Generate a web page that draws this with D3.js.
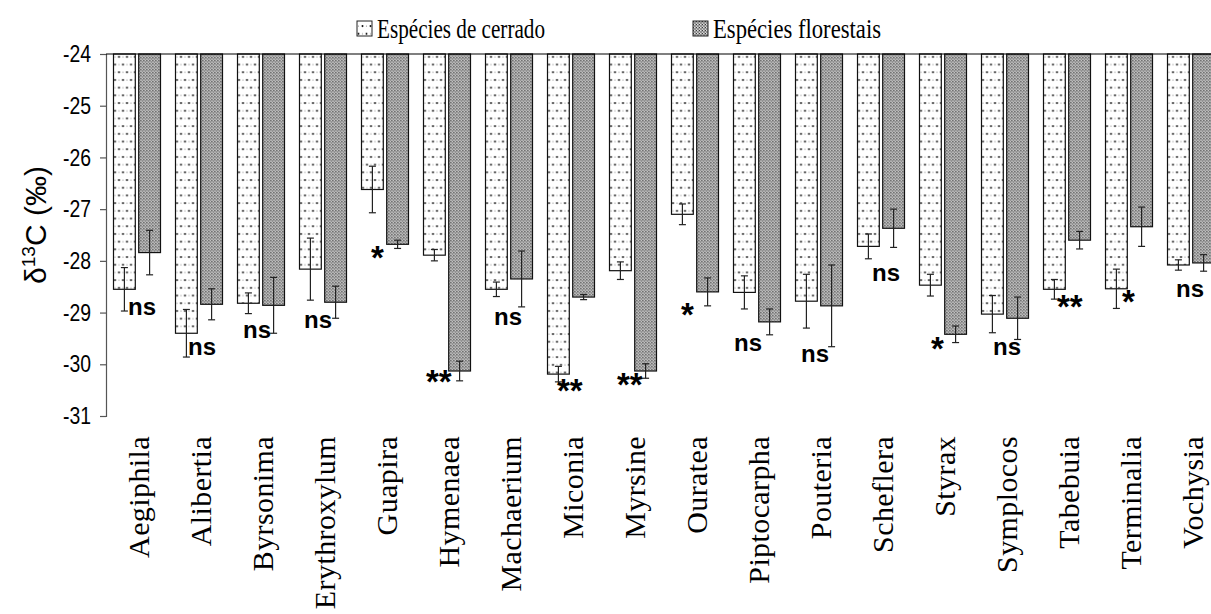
<!DOCTYPE html>
<html>
<head>
<meta charset="utf-8">
<script src="https://cdn.jsdelivr.net/npm/d3@7"></script>
<style>
  html, body { margin: 0; padding: 0; background: #fff; }
  svg { display: block; }
</style>
</head>
<body>
<svg id="chart" width="1211" height="614"></svg>
<script>
// ---------- data ----------
const categories = ["Aegiphila","Alibertia","Byrsonima","Erythroxylum","Guapira","Hymenaea","Machaerium","Miconia","Myrsine","Ouratea","Piptocarpha","Pouteria","Scheflera","Styrax","Symplocos","Tabebuia","Terminalia","Vochysia"];
const seriesNames = ["Espécies de cerrado", "Espécies florestais"];
const cerradoMean = [-28.55,-29.40,-28.82,-28.16,-26.62,-27.89,-28.55,-30.19,-28.19,-27.10,-28.61,-28.78,-27.72,-28.47,-29.03,-28.55,-28.54,-28.08];
const cerradoErr  = [0.42,0.46,0.20,0.60,0.45,0.11,0.14,0.15,0.17,0.20,0.32,0.52,0.24,0.21,0.36,0.19,0.38,0.10];
const florestalMean = [-27.84,-28.84,-28.86,-28.80,-27.68,-30.13,-28.35,-28.70,-30.13,-28.60,-29.18,-28.87,-27.37,-29.42,-29.11,-27.60,-27.34,-28.04];
const florestalErr  = [0.43,0.30,0.54,0.31,0.08,0.19,0.54,0.05,0.14,0.27,0.25,0.79,0.37,0.16,0.41,0.17,0.38,0.16];
const sigLabels = ["ns","ns","ns","ns","*","**","ns","**","**","*","ns","ns","ns","*","ns","**","*","ns"];
const yTicks = [-24,-25,-26,-27,-28,-29,-30,-31];

// ---------- layout (not data) ----------
const sigLabelY  = [-29.05,-29.82,-29.49,-29.30,-28.15,-30.56,-29.24,-30.73,-30.62,-29.25,-29.74,-29.96,-28.39,-29.92,-29.82,-29.11,-29.01,-28.70]; // baseline, in ‰ units
const sigLabelDx = [-9,-11,-18,-19,-14,-21,-15,-14,-16,-14,-23,-18,-9,-12,-12,-10,-7,-15];

const svg = d3.select("#chart");
const plotLeft = 106, plotTop = 54, plotBottom = 416;
const step = 62;

const y = d3.scaleLinear().domain([-24, -31]).range([plotTop, plotBottom]);
const x0 = d3.scaleBand().domain(categories)
  .range([plotLeft, plotLeft + step * categories.length])
  .paddingInner(0.242).paddingOuter(0.121);
const x1 = d3.scaleBand().domain(seriesNames).range([0, x0.bandwidth()]).paddingInner(0.135);

// ---------- patterns ----------
const defs = svg.append("defs");
const pDots = defs.append("pattern").attr("id","dots").attr("patternUnits","userSpaceOnUse")
  .attr("width",8).attr("height",15.4);
pDots.append("rect").attr("width",8).attr("height",15.4).attr("fill","#fff");
pDots.append("circle").attr("cx",1.5).attr("cy",3).attr("r",1).attr("fill","#111");
pDots.append("circle").attr("cx",5.5).attr("cy",10.7).attr("r",1).attr("fill","#111");
pDots.append("circle").attr("cx",5.5).attr("cy",3).attr("r",0.6).attr("fill","#888");
pDots.append("circle").attr("cx",1.5).attr("cy",10.7).attr("r",0.6).attr("fill","#888");

const pDense = defs.append("pattern").attr("id","dense").attr("patternUnits","userSpaceOnUse")
  .attr("width",3).attr("height",3);
pDense.append("rect").attr("width",3).attr("height",3).attr("fill","#a8a8a8");
pDense.append("rect").attr("x",0).attr("y",0).attr("width",1).attr("height",1).attr("fill","#3a3a3a");
pDense.append("rect").attr("x",1.5).attr("y",1.5).attr("width",1).attr("height",1).attr("fill","#555");
pDense.append("rect").attr("x",1).attr("y",0).attr("width",1).attr("height",1).attr("fill","#dedede");
pDense.append("rect").attr("x",0).attr("y",2).attr("width",1).attr("height",1).attr("fill","#d0d0d0");

const fills = {"Espécies de cerrado":"url(#dots)", "Espécies florestais":"url(#dense)"};

// ---------- bars ----------
const rows = categories.map((c,i) => ({
  cat: c,
  vals: [
    {s: seriesNames[0], v: cerradoMean[i], e: cerradoErr[i]},
    {s: seriesNames[1], v: florestalMean[i], e: florestalErr[i]}
  ]
}));

const g = svg.append("g");
const groups = g.selectAll("g.grp").data(rows).join("g")
  .attr("class","grp")
  .attr("transform", d => `translate(${x0(d.cat)},0)`);

groups.selectAll("rect").data(d => d.vals).join("rect")
  .attr("x", d => x1(d.s))
  .attr("y", y(-24))
  .attr("width", x1.bandwidth())
  .attr("height", d => y(d.v) - y(-24))
  .attr("fill", d => fills[d.s])
  .attr("stroke", "#111")
  .attr("stroke-width", 1.2);

// error bars
const eb = groups.selectAll("g.eb").data(d => d.vals).join("g").attr("class","eb");
eb.append("line")
  .attr("x1", d => x1(d.s) + x1.bandwidth()/2).attr("x2", d => x1(d.s) + x1.bandwidth()/2)
  .attr("y1", d => y(d.v + d.e)).attr("y2", d => y(d.v - d.e))
  .attr("stroke","#222").attr("stroke-width",1.2);
[1,-1].forEach(sgn => {
  eb.append("line")
    .attr("x1", d => x1(d.s) + x1.bandwidth()/2 - 3.5).attr("x2", d => x1(d.s) + x1.bandwidth()/2 + 3.5)
    .attr("y1", d => y(d.v + sgn*d.e)).attr("y2", d => y(d.v + sgn*d.e))
    .attr("stroke","#222").attr("stroke-width",1.2);
});

// ---------- axes ----------
const yAxis = d3.axisLeft(y).tickValues(yTicks).tickSize(6).tickPadding(9).tickFormat(d => String(d));
const ya = svg.append("g").attr("transform", `translate(${plotLeft},0)`).call(yAxis);
ya.select(".domain").attr("stroke","#555").attr("stroke-width",1.2);
ya.selectAll(".tick line").attr("stroke","#555").attr("stroke-width",1.2);
ya.selectAll(".tick text")
  .attr("font-family","Liberation Sans, Arial, sans-serif")
  .attr("font-size",24).attr("fill","#000")
  .attr("textLength",28).attr("lengthAdjust","spacingAndGlyphs");

// top baseline at -24
svg.append("line").attr("x1",plotLeft).attr("x2",1211).attr("y1",y(-24)).attr("y2",y(-24))
  .attr("stroke","#000").attr("stroke-width",1.2);

// x category labels
svg.append("g").selectAll("text").data(categories).join("text")
  .attr("transform", d => `translate(${x0(d) + x0.bandwidth()/2 + 12},436) rotate(-90)`)
  .attr("text-anchor","end")
  .attr("font-family","Liberation Serif, Times New Roman, serif")
  .attr("font-size",30)
  .attr("letter-spacing",0.4)
  .text(d => d);

// y label
const yl = svg.append("text")
  .attr("transform", `translate(46,225) rotate(-90)`)
  .attr("text-anchor","middle")
  .attr("font-family","Liberation Sans, Arial, sans-serif")
  .attr("font-size",30);
yl.append("tspan").text("δ");
yl.append("tspan").attr("font-size",19).attr("dy",-11).text("13");
yl.append("tspan").attr("dy",11).text("C (‰)");

// significance labels
svg.append("g").selectAll("text").data(sigLabels).join("text")
  .attr("x", (d,i) => x0(categories[i]) + x0.bandwidth()/2 + sigLabelDx[i])
  .attr("y", (d,i) => y(sigLabelY[i]))
  .attr("font-family","Liberation Sans, Arial, sans-serif")
  .attr("font-weight","bold")
  .attr("font-size", d => d === "ns" ? 24 : 33)
  .text(d => d);

// legend
const legendX = [357, 693];
const legendTextW = [168, 168];
const lg = svg.append("g").selectAll("g").data(seriesNames).join("g")
  .attr("transform", (d,i) => `translate(${legendX[i]},0)`);
lg.append("rect").attr("x",0).attr("y",21).attr("width",15).attr("height",15)
  .attr("fill", d => fills[d]).attr("stroke","#222").attr("stroke-width",1);
lg.append("text").attr("x",20).attr("y",38)
  .attr("font-family","Liberation Serif, Times New Roman, serif")
  .attr("font-size",28)
  .attr("textLength",(d,i)=>legendTextW[i]).attr("lengthAdjust","spacingAndGlyphs")
  .text(d => d);
</script>
</body>
</html>
